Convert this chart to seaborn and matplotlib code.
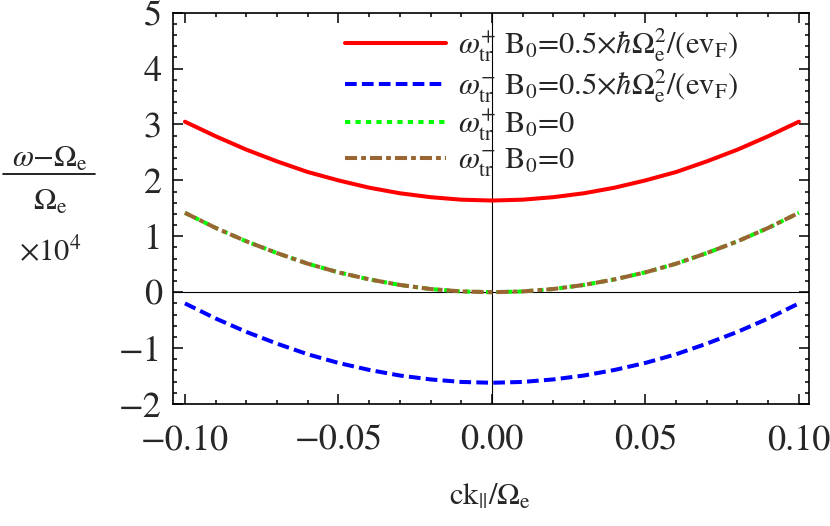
import seaborn as sns
import matplotlib.pyplot as plt
import matplotlib.ticker as mticker
import pandas as pd

# values (y in units of 1e-4)
k = [-0.10, -0.09, -0.08, -0.07, -0.06, -0.05, -0.04, -0.03, -0.02, -0.01, 0.00,
     0.01, 0.02, 0.03, 0.04, 0.05, 0.06, 0.07, 0.08, 0.09, 0.10]
w_plus_B = [3.05, 2.79, 2.55, 2.34, 2.15, 2.00, 1.87, 1.77, 1.70, 1.655, 1.64,
            1.655, 1.70, 1.77, 1.87, 2.00, 2.15, 2.34, 2.55, 2.79, 3.05]
w_minus_B = [-0.20, -0.47, -0.71, -0.92, -1.11, -1.265, -1.39, -1.49, -1.56, -1.605, -1.62,
             -1.605, -1.56, -1.49, -1.39, -1.265, -1.11, -0.92, -0.71, -0.47, -0.20]
w_plus_0 = [1.42, 1.15, 0.91, 0.70, 0.51, 0.355, 0.23, 0.13, 0.057, 0.014, 0.0,
            0.014, 0.057, 0.13, 0.23, 0.355, 0.51, 0.70, 0.91, 1.15, 1.42]
w_minus_0 = [1.42, 1.15, 0.91, 0.70, 0.51, 0.355, 0.23, 0.13, 0.057, 0.014, 0.0,
             0.014, 0.057, 0.13, 0.23, 0.355, 0.51, 0.70, 0.91, 1.15, 1.42]

B_txt = r"B$_0$=0.5×$\hbar\Omega_\mathrm{e}^2$/(ev$_\mathrm{F}$)"
labels = [r"$\omega_\mathrm{tr}^{+}$ " + B_txt,
          r"$\omega_\mathrm{tr}^{-}$ " + B_txt,
          r"$\omega_\mathrm{tr}^{+}$ B$_0$=0",
          r"$\omega_\mathrm{tr}^{-}$ B$_0$=0"]
series = [w_plus_B, w_minus_B, w_plus_0, w_minus_0]
colors = ["#ff0000", "#0000ff", "#00ff00", "#996633"]
dashes = [None, (2.9, 1.3), (1.3, 1.3), (3.0, 1.0, 1.2, 1.0)]

sns.set_style("ticks")
plt.rcParams["font.family"] = ["STIXGeneral", "DejaVu Serif"]
plt.rcParams["mathtext.fontset"] = "stix"

fig = plt.figure(figsize=(8.3, 5.26), dpi=100)
ax = fig.add_axes([0.2084, 0.2319, 0.7663, 0.7440])

ax.axhline(0, color="black", lw=0.8, zorder=1)
ax.axvline(0, color="black", lw=0.8, zorder=1)

for ys, lab, c, d in zip(series, labels, colors, dashes):
    df = pd.DataFrame({"k": k, "w": ys})
    sns.lineplot(data=df, x="k", y="w", ax=ax, color=c, lw=2.9, label=lab)
    if d is not None:
        ax.lines[-1].set_dashes(d)

ax.set_xlim(-0.1039, 0.1033)
ax.set_ylim(-2, 5)
ax.xaxis.set_major_locator(mticker.MultipleLocator(0.05))
ax.xaxis.set_minor_locator(mticker.MultipleLocator(0.01))
ax.yaxis.set_major_locator(mticker.MultipleLocator(1))
ax.yaxis.set_minor_locator(mticker.MultipleLocator(0.2))
ax.xaxis.set_major_formatter(mticker.FuncFormatter(
    lambda v, p: f"{round(v, 2) + 0.0:.2f}".replace("-", "\u2212")))
ax.tick_params(which="both", direction="in", top=True, right=True, color="black", width=1.1)
ax.tick_params(which="major", length=7.5, labelsize=26)
ax.tick_params(which="minor", length=3.2)
ax.tick_params(axis="x", which="major", pad=15)
ax.tick_params(axis="y", which="major", pad=8)
for s in ax.spines.values():
    s.set_linewidth(1.2)
    s.set_color("black")

ax.set_xlabel("")
ax.set_ylabel("")

leg = ax.legend(loc="upper left", bbox_to_anchor=(0.27, 0.965), frameon=False,
                fontsize=22, handlelength=3.3, handletextpad=0.4, labelspacing=0.1,
                borderpad=0, borderaxespad=0)

# axis labels
fig.text(490 / 830, 1 - 497 / 526, r"ck$_{||}$/$\Omega_\mathrm{e}$",
         ha="center", va="center", fontsize=22)
fig.text(50 / 830, 1 - 160 / 526, r"$\omega$−$\Omega_\mathrm{e}$", ha="center", va="center", fontsize=22)
fig.add_artist(plt.Line2D([3 / 830, 95 / 830], [1 - 174 / 526, 1 - 174 / 526], color="black", lw=1.2))
fig.text(50 / 830, 1 - 203 / 526, r"$\Omega_\mathrm{e}$", ha="center", va="center", fontsize=22)
fig.text(50 / 830, 1 - 252 / 526, r"×10$^4$", ha="center", va="center", fontsize=22)

fig.savefig("out.png", dpi=100)
